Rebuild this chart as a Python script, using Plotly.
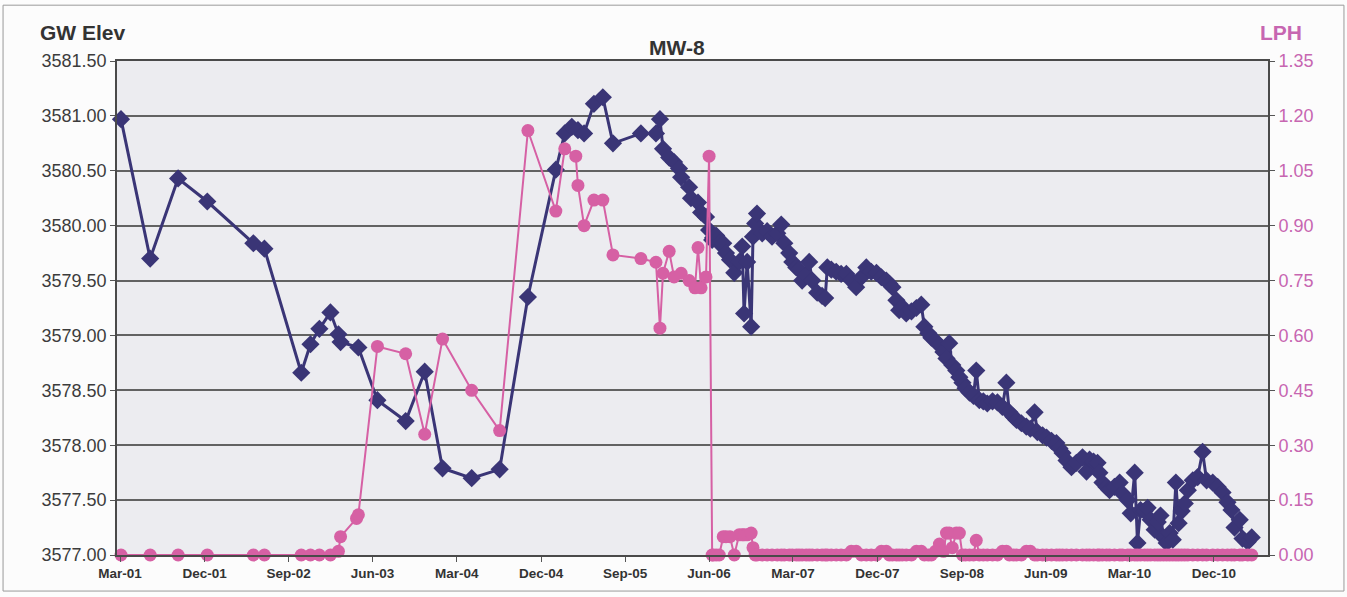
import plotly.graph_objects as go

# Monitoring well MW-8: groundwater elevation (ft) and LPH thickness (ft)
dates = [
    "2001-03-04", "2001-06-07", "2001-09-06", "2001-12-10",
    "2002-05-09", "2002-06-14", "2002-10-12", "2002-11-11", "2002-12-10",
    "2003-01-15", "2003-02-10", "2003-02-17", "2003-04-10", "2003-04-16",
    "2003-06-17", "2003-09-17", "2003-11-18",
    "2004-01-15", "2004-04-19", "2004-07-19", "2004-10-19",
    "2005-01-18", "2005-02-16", "2005-03-11", "2005-03-24", "2005-03-31",
    "2005-04-20", "2005-05-22", "2005-06-20", "2005-07-23", "2005-10-22",
    "2005-12-10", "2005-12-23",
    "2006-01-02", "2006-01-22", "2006-02-07", "2006-02-23", "2006-03-02",
    "2006-03-28", "2006-04-03", "2006-04-16", "2006-04-26", "2006-05-06",
    "2006-05-22", "2006-06-01", "2006-06-11",
    "2006-06-14", "2006-06-24", "2006-07-04", "2006-07-17", "2006-07-26",
    "2006-08-08", "2006-08-22", "2006-09-07", "2006-09-17", "2006-09-23",
    "2006-10-03", "2006-10-16", "2006-10-22", "2006-10-29", "2006-11-04",
    "2006-11-21", "2006-12-07", "2006-12-23",
    "2007-01-09", "2007-01-22", "2007-02-01", "2007-02-17", "2007-02-27",
    "2007-03-12", "2007-03-21", "2007-03-31", "2007-04-13", "2007-04-23",
    "2007-05-03", "2007-05-19", "2007-06-04", "2007-06-14", "2007-06-21",
    "2007-07-04", "2007-07-20", "2007-08-05", "2007-08-22", "2007-09-07",
    "2007-09-23", "2007-10-10", "2007-10-26", "2007-11-11", "2007-11-28",
    "2007-12-14", "2007-12-30",
    "2008-01-09", "2008-01-19", "2008-02-01", "2008-02-10", "2008-02-20",
    "2008-03-04", "2008-03-21", "2008-04-06", "2008-04-22", "2008-05-02",
    "2008-05-15", "2008-05-25", "2008-06-07", "2008-06-20", "2008-07-03",
    "2008-07-13", "2008-07-22", "2008-08-01", "2008-08-14", "2008-08-24",
    "2008-09-03", "2008-09-13", "2008-09-26", "2008-10-09", "2008-10-18",
    "2008-10-28", "2008-11-10", "2008-11-23", "2008-12-10", "2008-12-26",
    "2009-01-11", "2009-01-24", "2009-02-03", "2009-02-16", "2009-02-26",
    "2009-03-14", "2009-03-30", "2009-04-12", "2009-04-26", "2009-05-05",
    "2009-05-22", "2009-06-04", "2009-06-20", "2009-07-06", "2009-07-16",
    "2009-07-26", "2009-08-08", "2009-08-24", "2009-09-09", "2009-09-29",
    "2009-10-12", "2009-10-22", "2009-11-04", "2009-11-17", "2009-11-23",
    "2009-12-03", "2009-12-16", "2009-12-26",
    "2010-01-11", "2010-01-28", "2010-02-06", "2010-02-23", "2010-03-05",
    "2010-03-18", "2010-03-27", "2010-04-06", "2010-04-19", "2010-04-29",
    "2010-05-09", "2010-05-22", "2010-06-01", "2010-06-10", "2010-06-20",
    "2010-06-30", "2010-07-10", "2010-07-20", "2010-07-30", "2010-08-08",
    "2010-08-18", "2010-08-28", "2010-09-07", "2010-09-23", "2010-10-09",
    "2010-10-25", "2010-11-07", "2010-11-27", "2010-12-13", "2010-12-29",
    "2011-01-14", "2011-01-27", "2011-02-06", "2011-02-23", "2011-03-04",
    "2011-03-21", "2011-04-03",
]

gw_elev = [
    3580.97, 3579.70, 3580.43, 3580.22,
    3579.84, 3579.79, 3578.66, 3578.92, 3579.06,
    3579.21, 3579.01, 3578.94, None, 3578.89,
    3578.41, 3578.22, 3578.67,
    3577.79, 3577.70, 3577.78, 3579.35,
    3580.51, 3580.84, 3580.90, None, 3580.87,
    3580.84, 3581.11, 3581.17, 3580.75, 3580.84,
    3580.84, 3580.97,
    3580.70, 3580.62, 3580.58, 3580.52, 3580.44,
    3580.35, 3580.25, None, 3580.21, 3580.12,
    3580.08, 3579.96, 3579.87,
    3579.89, 3579.91, 3579.84, 3579.84, 3579.75,
    3579.69, 3579.57, 3579.67, 3579.81, 3579.20,
    3579.67, 3579.08, 3579.90, 3580.02, 3580.11,
    3579.93, 3579.95, 3579.90,
    3579.93, 3580.01, 3579.84, 3579.75, 3579.67,
    3579.62, 3579.60, 3579.50, 3579.55, 3579.67,
    3579.50, 3579.39, 3579.36, 3579.34, 3579.62,
    3579.60, 3579.58, 3579.56, 3579.56, 3579.50,
    3579.44, 3579.53, 3579.62, 3579.58, 3579.57,
    3579.53, 3579.50,
    3579.47, 3579.44, 3579.32, 3579.23, 3579.26,
    3579.20, 3579.22, 3579.25, 3579.28, 3579.08,
    3579.02, 3578.98, 3578.95, 3578.91, 3578.85,
    3578.79, 3578.93, 3578.73, 3578.68, 3578.62,
    3578.57, 3578.52, 3578.48, 3578.45, 3578.68,
    3578.41, 3578.40, 3578.38, 3578.40, 3578.39,
    3578.35, 3578.57, 3578.30, 3578.26, 3578.23,
    3578.20, 3578.17, 3578.15, 3578.30, 3578.12,
    3578.09, 3578.07, 3578.04, 3578.02, 3577.97,
    3577.93, 3577.86, 3577.80, 3577.84, 3577.89,
    3577.76, 3577.87, 3577.85, 3577.84, 3577.75,
    3577.66, 3577.62, 3577.59,
    3577.62, 3577.66, 3577.56, 3577.50, 3577.38,
    3577.75, 3577.11, 3577.41, 3577.40, 3577.43,
    3577.32, 3577.23, 3577.30, 3577.36, 3577.16,
    3577.11, 3577.20, 3577.14, 3577.66, 3577.29,
    3577.40, 3577.47, 3577.59, 3577.68, 3577.71,
    3577.94, 3577.68, 3577.66, 3577.62, 3577.57,
    3577.48, 3577.41, 3577.25, 3577.32, 3577.15,
    3577.12, 3577.16,
]

lph = [
    0.00, 0.00, 0.00, 0.00,
    0.00, 0.00, 0.00, 0.00, 0.00,
    0.00, 0.01, 0.05, 0.10, 0.11,
    0.57, 0.55, 0.33,
    0.59, 0.45, 0.34, 1.16,
    0.94, 1.11, None, 1.09, 1.01,
    0.90, 0.97, 0.97, 0.82, 0.81,
    0.80, 0.62,
    0.77, 0.83, 0.76, None, 0.77,
    0.75, None, 0.73, 0.84, 0.73,
    0.76, 1.09, 0.00,
    0.00, 0.00, 0.00, 0.05, 0.05,
    0.05, 0.00, 0.055, 0.055, 0.055,
    0.055, 0.06, 0.02, 0.00, 0.00,
    0.00, 0.00, 0.00,
    0.00, 0.00, 0.00, 0.00, 0.00,
    0.00, 0.00, 0.00, 0.00, 0.00,
    0.00, 0.00, 0.00, 0.00, 0.00,
    0.00, 0.00, 0.00, 0.00, 0.01,
    0.01, 0.00, 0.00, 0.00, 0.00,
    0.01, 0.01,
    0.00, 0.00, 0.00, 0.00, 0.00,
    0.00, 0.00, 0.01, 0.01, 0.00,
    0.00, 0.00, 0.01, 0.03, 0.01,
    0.06, 0.06, 0.02, 0.06, 0.06,
    0.00, 0.00, 0.00, 0.00, 0.04,
    0.00, 0.00, 0.00, 0.00, 0.00,
    0.01, 0.01, 0.00, 0.00, 0.00,
    0.00, 0.01, 0.01, 0.00, 0.00,
    0.00, 0.00, 0.00, 0.00, 0.00,
    0.00, 0.00, 0.00, 0.00, 0.00,
    0.00, 0.00, 0.00, 0.00, 0.00,
    0.00, 0.00, 0.00,
    0.00, 0.00, 0.00, 0.00, 0.00,
    0.00, 0.00, 0.00, 0.00, 0.00,
    0.00, 0.00, 0.00, 0.00, 0.00,
    0.00, 0.00, 0.00, 0.00, 0.00,
    0.00, 0.00, 0.00, 0.00, 0.00,
    0.00, 0.00, 0.00, 0.00, 0.00,
    0.00, 0.00, 0.00, 0.00, 0.00,
    0.00, 0.00,
]

assert len(dates) == len(gw_elev) == len(lph)

NAVY = "#3a3576"
PINK = "#d660a4"
PINK_TEXT = "#c766b1"
FONT = "Liberation Sans, Arial, sans-serif"

fig = go.Figure()

fig.add_trace(go.Scatter(
    x=dates, y=gw_elev, name="GW Elev", mode="lines+markers",
    connectgaps=True, cliponaxis=False,
    line=dict(color=NAVY, width=3),
    marker=dict(symbol="diamond", size=14, color=NAVY),
))

fig.add_trace(go.Scatter(
    x=dates, y=lph, name="LPH", yaxis="y2", mode="lines+markers",
    connectgaps=True, cliponaxis=False,
    line=dict(color=PINK, width=2),
    marker=dict(symbol="circle", size=13, color=PINK),
))

fig.update_layout(
    width=1347, height=597,
    margin=dict(l=117, r=79, t=61, b=42),
    paper_bgcolor="#fcfcfc",
    plot_bgcolor="#ececf0",
    showlegend=False,
    font=dict(family=FONT, color="#3a3a3a"),
    xaxis=dict(
        type="date",
        range=["2001-02-19", "2011-05-26"],
        tick0="2001-03-01", dtick="M9", tickformat="%b-%y",
        ticks="outside", ticklen=5, tickcolor="#555", tickwidth=1.2,
        showgrid=False, zeroline=False,
        showline=True, linecolor="#4a4a4a", linewidth=1.6, mirror=True,
        tickfont=dict(size=13.5, color="#333", family=FONT, weight="bold"),
    ),
    yaxis=dict(
        range=[3577, 3581.5], tick0=3577, dtick=0.5, tickformat=".2f",
        ticks="outside", ticklen=5, tickcolor="#555", tickwidth=1.2,
        showgrid=True, gridcolor="#626262", gridwidth=1.6,
        zeroline=False,
        showline=True, linecolor="#4a4a4a", linewidth=1.6,
        tickfont=dict(size=18, color="#3c3c3c", family=FONT),
    ),
    yaxis2=dict(
        overlaying="y", side="right",
        range=[0, 1.35], tick0=0, dtick=0.15, tickformat=".2f",
        ticks="outside", ticklen=5, tickcolor="#555", tickwidth=1.2,
        showgrid=False, zeroline=False,
        showline=True, linecolor="#4a4a4a", linewidth=1.6,
        tickfont=dict(size=18, color=PINK_TEXT, family=FONT),
    ),
    annotations=[
        dict(text="MW-8", xref="paper", yref="paper", x=0.4865, y=1.028,
             xanchor="center", yanchor="middle", showarrow=False,
             font=dict(size=21, color="#333", family=FONT, weight="bold")),
        dict(text="GW Elev", xref="paper", yref="paper", x=-0.0686, y=1.0567,
             xanchor="left", yanchor="middle", showarrow=False,
             font=dict(size=21, color="#333", family=FONT, weight="bold")),
        dict(text="LPH", xref="paper", yref="paper", x=0.9913, y=1.0567,
             xanchor="left", yanchor="middle", showarrow=False,
             font=dict(size=21, color=PINK_TEXT, family=FONT, weight="bold")),
    ],
    shapes=[
        dict(type="rect", xref="paper", yref="paper",
             x0=-0.099, x1=1.066, y0=-0.073, y1=1.113,
             line=dict(color="#9a9a9a", width=1), layer="below"),
    ],
)

fig.write_html("out.html")
